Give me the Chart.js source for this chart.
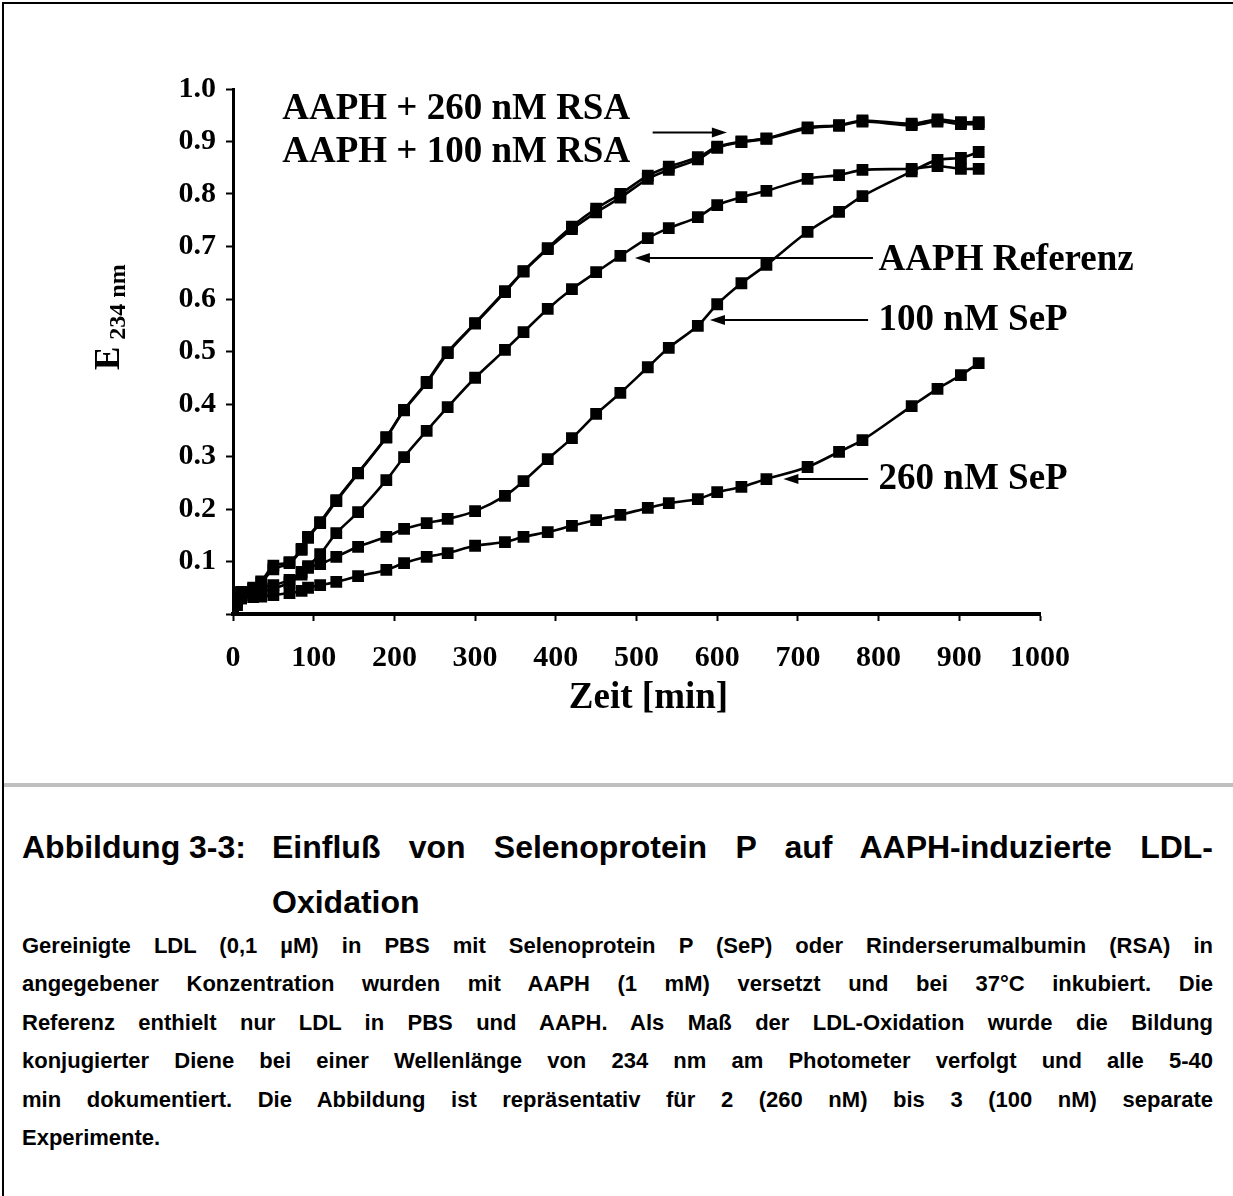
<!DOCTYPE html>
<html>
<head>
<meta charset="utf-8">
<script src="https://cdn.jsdelivr.net/npm/chart.js@4.4.1/dist/chart.umd.min.js"></script>
<style>
  html, body { margin: 0; padding: 0; background: #fff; }
  #page { position: relative; width: 1233px; height: 1196px; overflow: hidden; }
  #frame { position: absolute; left: 2px; top: 2px; width: 1240px; height: 1200px;
           border-top: 2px solid #000; border-left: 2px solid #000; }
  #chart { position: absolute; left: 0; top: 0; }
  #sep { position: absolute; left: 4px; top: 783px; width: 1229px; height: 4px; background: #c0c0c0; }
  .cap { position: absolute; font-family: "Liberation Sans", Arial, sans-serif; font-weight: bold; color: #000; }
  .head { font-size: 32px; line-height: 55px; }
  .body { font-size: 22px; line-height: 38.4px; }
  .just { text-align: justify; text-align-last: justify; white-space: normal; }
</style>
</head>
<body>
<div id="page">
  <div id="frame"></div>
  <canvas id="chart" width="1233" height="783"></canvas>
  <div id="sep"></div>

  <div class="cap head" style="left:22px; top:820px;">Abbildung 3-3:</div>
  <div class="cap head just" style="left:272px; top:820px; width:941px;">Einfluß von Selenoprotein P auf AAPH-induzierte LDL-</div>
  <div class="cap head" style="left:272px; top:875px;">Oxidation</div>

  <div class="cap body just" style="left:22px; top:927px; width:1191px;">Gereinigte LDL (0,1 µM) in PBS mit Selenoprotein P (SeP) oder Rinderserumalbumin (RSA) in</div>
  <div class="cap body just" style="left:22px; top:965px; width:1191px;">angegebener Konzentration wurden mit AAPH (1 mM) versetzt und bei 37°C inkubiert. Die</div>
  <div class="cap body just" style="left:22px; top:1004px; width:1191px;">Referenz enthielt nur LDL in PBS und AAPH. Als Maß der LDL-Oxidation wurde die Bildung</div>
  <div class="cap body just" style="left:22px; top:1042px; width:1191px;">konjugierter Diene bei einer Wellenlänge von 234 nm am Photometer verfolgt und alle 5-40</div>
  <div class="cap body just" style="left:22px; top:1081px; width:1191px;">min dokumentiert. Die Abbildung ist repräsentativ für 2 (260 nM) bis 3 (100 nM) separate</div>
  <div class="cap body" style="left:22px; top:1119px;">Experimente.</div>
</div>

<script>
// time points [min]
const times = [0, 5, 10, 25, 35, 50, 70, 85, 93, 108, 128, 155, 190, 212, 240, 266, 300, 337, 360, 390,
               420, 450, 480, 514, 540, 576, 600, 630, 661, 712, 751, 780, 841, 873, 902, 924]

// E 234 nm
const rsa260 = [0, 0.030, 0.042, 0.050, 0.062, 0.092, 0.099, 0.124, 0.147, 0.175, 0.217, 0.269, 0.337, 0.389, 0.442, 0.499,
                0.554, 0.615, 0.653, 0.697, 0.738, 0.772, 0.800, 0.835, 0.852, 0.870, 0.890, 0.900, 0.906, 0.927, 0.931, 0.940,
                0.934, 0.942, 0.937, 0.937]
const rsa100 = [0, 0.028, 0.040, 0.048, 0.060, 0.085, 0.097, 0.122, 0.145, 0.173, 0.215, 0.268, 0.336, 0.388, 0.440, 0.497,
                0.553, 0.613, 0.652, 0.695, 0.733, 0.765, 0.793, 0.829, 0.846, 0.866, 0.888, 0.899, 0.905, 0.925, 0.930, 0.938,
                0.931, 0.938, 0.933, 0.933]
const referenz = [0, 0.027, 0.032, 0.042, 0.050, 0.055, 0.065, 0.080, 0.091, 0.114, 0.154, 0.194, 0.255, 0.299, 0.349, 0.394,
                  0.450, 0.503, 0.537, 0.581, 0.619, 0.651, 0.682, 0.716, 0.735, 0.756, 0.779, 0.794, 0.806, 0.829, 0.836, 0.846,
                  0.848, 0.853, 0.848, 0.848]
const sep100 = [0, 0.023, 0.030, 0.036, 0.042, 0.048, 0.060, 0.075, 0.088, 0.095, 0.109, 0.128, 0.147, 0.162, 0.173, 0.181,
                0.196, 0.225, 0.253, 0.295, 0.335, 0.381, 0.421, 0.470, 0.507, 0.549, 0.590, 0.630, 0.665, 0.728, 0.766, 0.796,
                0.843, 0.865, 0.869, 0.880]
const sep260 = [0, 0.017, 0.030, 0.032, 0.033, 0.036, 0.040, 0.044, 0.050, 0.055, 0.061, 0.072, 0.084, 0.097, 0.109, 0.116,
                0.130, 0.137, 0.147, 0.156, 0.168, 0.179, 0.189, 0.202, 0.211, 0.219, 0.232, 0.242, 0.257, 0.280, 0.309, 0.331,
                0.396, 0.429, 0.455, 0.478]

const xTicks = [0, 100, 200, 300, 400, 500, 600, 700, 800, 900, 1000]
const yTicks = [0.1, 0.2, 0.3, 0.4, 0.5, 0.6, 0.7, 0.8, 0.9, 1.0]

// labels with arrows, in data units: text start, arrow tail -> arrow tip
const notes = [
  { text: "AAPH + 260 nM RSA", tx: 61, ty: 0.961 },
  { text: "AAPH + 100 nM RSA", tx: 61, ty: 0.879, from: [520, 0.917], to: [612, 0.917] },
  { text: "AAPH Referenz", tx: 800, ty: 0.673, from: [793, 0.678], to: [498, 0.678] },
  { text: "100 nM SeP", tx: 800, ty: 0.559, from: [787, 0.560], to: [591, 0.560] },
  { text: "260 nM SeP", tx: 800, ty: 0.256, from: [787, 0.257], to: [682, 0.257] },
]

const serif = "'Liberation Serif', 'Times New Roman', serif"

function pts(vals) {
  return times.map((t, i) => ({ x: t, y: vals[i] }))
}

function line(label, vals) {
  return {
    label: label,
    data: pts(vals),
    borderColor: "#000000",
    backgroundColor: "#000000",
    borderWidth: 2.6,
    pointStyle: "rect",
    pointRadius: 6.5,
    tension: 0.3,
  }
}

const extras = {
  id: "extras",
  afterDatasetsDraw(c) {
    const ctx = c.ctx
    const xs = c.scales.x, ys = c.scales.y
    const area = c.chartArea
    ctx.save()
    ctx.fillStyle = "#000"
    ctx.strokeStyle = "#000"
    ctx.font = "bold 37px " + serif
    ctx.textBaseline = "middle"
    ctx.textAlign = "left"
    notes.forEach(n => {
      ctx.fillText(n.text, xs.getPixelForValue(n.tx), ys.getPixelForValue(n.ty))
      if (!n.from) return
      const x1 = xs.getPixelForValue(n.from[0]), y1 = ys.getPixelForValue(n.from[1])
      const x2 = xs.getPixelForValue(n.to[0]), y2 = ys.getPixelForValue(n.to[1])
      const dir = Math.sign(x2 - x1)
      ctx.lineWidth = 2
      ctx.beginPath()
      ctx.moveTo(x1, y1)
      ctx.lineTo(x2 - dir * 10, y2)
      ctx.stroke()
      ctx.beginPath()
      ctx.moveTo(x2, y2)
      ctx.lineTo(x2 - dir * 15, y2 - 5)
      ctx.lineTo(x2 - dir * 15, y2 + 5)
      ctx.closePath()
      ctx.fill()
    })

    // x title
    ctx.font = "bold 37px " + serif
    ctx.textAlign = "center"
    ctx.fillText("Zeit [min]", (area.left + area.right) / 2 + 12, area.bottom + 84)

    // y title with subscript
    ctx.translate(area.left - 114, area.top + 281)
    ctx.rotate(-Math.PI / 2)
    ctx.textAlign = "left"
    ctx.textBaseline = "alphabetic"
    ctx.font = "bold 35px " + serif
    ctx.fillText("E", 0, 0)
    const w = ctx.measureText("E").width
    ctx.font = "bold 24px " + serif
    ctx.fillText("234 nm", w + 7, 6)
    ctx.restore()
  }
}

const chart = new Chart("chart", {
  type: "line",
  data: {
    datasets: [
      line("AAPH + 260 nM RSA", rsa260),
      line("AAPH + 100 nM RSA", rsa100),
      line("AAPH Referenz", referenz),
      line("100 nM SeP", sep100),
      line("260 nM SeP", sep260),
    ]
  },
  options: {
    responsive: false,
    animation: false,
    layout: { padding: { left: 0, right: 193, top: 89, bottom: 0 } },
    plugins: {
      legend: { display: false },
      tooltip: { enabled: false },
    },
    scales: {
      x: {
        type: "linear",
        min: 0,
        max: 1000,
        afterBuildTicks: s => { s.ticks = xTicks.map(v => ({ value: v })) },
        afterFit: s => { s.height = 169 },
        ticks: {
          color: "#000",
          padding: 19,
          maxRotation: 0,
          font: { family: serif, size: 30, weight: "bold" },
          callback: v => String(v),
        },
        grid: { drawOnChartArea: false, drawTicks: true, tickLength: 7, tickColor: "#000", tickWidth: 2 },
        border: { color: "#000", width: 4 },
      },
      y: {
        min: 0,
        max: 1.0,
        afterBuildTicks: s => { s.ticks = [0].concat(yTicks).map(v => ({ value: v })) },
        afterFit: s => { s.width = 233 },
        ticks: {
          color: "#000",
          padding: 10,
          font: { family: serif, size: 30, weight: "bold" },
          callback: v => v === 0 ? "" : v.toFixed(1),
        },
        grid: { drawOnChartArea: false, drawTicks: true, tickLength: 7, tickColor: "#000", tickWidth: 2 },
        border: { color: "#000", width: 3 },
      }
    }
  },
  plugins: [extras]
})
</script>
</body>
</html>
